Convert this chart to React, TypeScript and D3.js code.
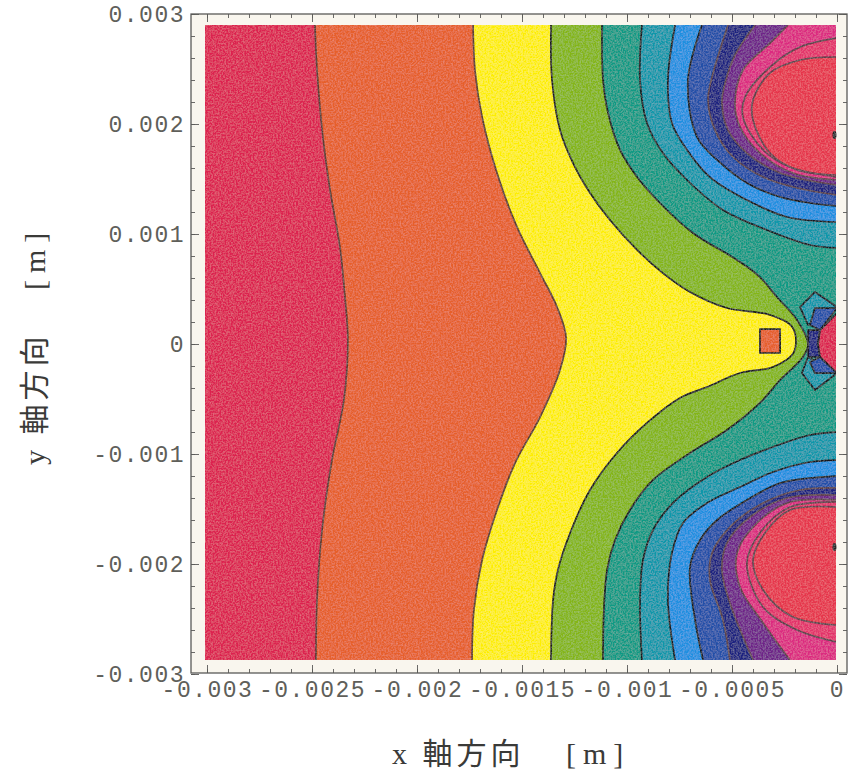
import React, { useEffect, useRef } from 'react'
import { select, scaleLinear, line, curveCatmullRom, axisLeft, axisBottom, axisTop, axisRight, range } from 'd3'

// all positions are in units of 0.001 m
type Pt = [number, number]

const xTicks = [-3, -2.5, -2, -1.5, -1, -0.5, 0]
const xTickLabels = ['-0.003', '-0.0025', '-0.002', '-0.0015', '-0.001', '-0.0005', '0']
const yTicks = [-3, -2, -1, 0, 1, 2, 3]
const yTickLabels = ['-0.003', '-0.002', '-0.001', '0', '0.001', '0.002', '0.003']
const xMinor = range(-3, 0.01, 0.1)
const yMinor = range(-3, 3.01, 0.2)

// extent of the coloured picture inside the frame
const imageX = [-3.01, -0.005]
const imageY = [2.9, -2.873]

const contour1: Pt[] = [[-2.486, 2.9], [-2.476, 2.491], [-2.448, 1.882], [-2.414, 1.4], [-2.367, 0.882], [-2.343, 0.427], [-2.329, 0.036], [-2.348, -0.509], [-2.405, -1.055], [-2.452, -1.691], [-2.476, -2.327], [-2.481, -2.873]]
const contour2: Pt[] = [[-1.733, 2.9], [-1.724, 2.491], [-1.69, 2.064], [-1.619, 1.555], [-1.524, 1.064], [-1.414, 0.645], [-1.333, 0.336], [-1.29, 0.055], [-1.319, -0.236], [-1.414, -0.664], [-1.533, -1.082], [-1.619, -1.509], [-1.69, -1.964], [-1.729, -2.418], [-1.738, -2.873]]
const contour3: Pt[] = [[-1.362, 2.9], [-1.357, 2.4], [-1.319, 1.945], [-1.257, 1.645], [-1.176, 1.373], [-1.081, 1.127], [-0.952, 0.855], [-0.829, 0.645], [-0.7, 0.473], [-0.524, 0.327], [-0.319, 0.264], [-0.21, 0.145], [-0.205, -0.073], [-0.305, -0.209], [-0.462, -0.264], [-0.619, -0.391], [-0.748, -0.491], [-0.905, -0.718], [-1.048, -0.991], [-1.176, -1.327], [-1.271, -1.718], [-1.329, -2.055], [-1.352, -2.327], [-1.362, -2.873]]
const contour4: Pt[] = [[-1.119, 2.9], [-1.114, 2.4], [-1.09, 2.1], [-1.033, 1.764], [-0.952, 1.518], [-0.843, 1.282], [-0.686, 1.009], [-0.476, 0.764], [-0.367, 0.609], [-0.286, 0.427], [-0.19, 0.218], [-0.138, 0], [-0.162, -0.118], [-0.271, -0.327], [-0.367, -0.536], [-0.524, -0.782], [-0.7, -0.991], [-0.876, -1.236], [-0.986, -1.509], [-1.057, -1.782], [-1.095, -2.055], [-1.11, -2.418], [-1.114, -2.873]]

const upper5: Pt[] = [[-0.929, 2.9], [-0.938, 2.4], [-0.905, 2.009], [-0.829, 1.736], [-0.714, 1.491], [-0.543, 1.218], [-0.333, 1.036], [-0.129, 0.9], [0, 0.873]]
const lower5: Pt[] = [[0, -0.8], [-0.129, -0.827], [-0.305, -0.936], [-0.462, -1.055], [-0.619, -1.209], [-0.781, -1.445], [-0.876, -1.691], [-0.924, -1.964], [-0.938, -2.327], [-0.929, -2.873]]
const upper6: Pt[] = [[-0.771, 2.9], [-0.805, 2.4], [-0.786, 2.009], [-0.714, 1.764], [-0.605, 1.518], [-0.429, 1.309], [-0.238, 1.155], [0, 1.109]]
const lower6: Pt[] = [[0, -1.055], [-0.129, -1.073], [-0.305, -1.164], [-0.462, -1.3], [-0.619, -1.445], [-0.733, -1.627], [-0.786, -1.9], [-0.805, -2.327], [-0.771, -2.873]]
const upper7: Pt[] = [[-0.643, 2.9], [-0.71, 2.4], [-0.667, 1.882], [-0.571, 1.673], [-0.429, 1.464], [-0.271, 1.336], [-0.129, 1.282], [0, 1.255]]
const lower7: Pt[] = [[0, -1.2], [-0.129, -1.218], [-0.271, -1.264], [-0.429, -1.418], [-0.571, -1.6], [-0.652, -1.782], [-0.7, -2.027], [-0.676, -2.509], [-0.638, -2.873]]
const upper8: Pt[] = [[-0.519, 2.9], [-0.595, 2.427], [-0.614, 2.218], [-0.581, 1.945], [-0.495, 1.7], [-0.352, 1.518], [-0.19, 1.418], [0, 1.355]]
const lower8: Pt[] = [[0, -1.309], [-0.176, -1.327], [-0.352, -1.445], [-0.51, -1.664], [-0.595, -1.9], [-0.605, -2.145], [-0.543, -2.509], [-0.51, -2.873]]
const upper9: Pt[] = [[-0.39, 2.9], [-0.486, 2.627], [-0.533, 2.373], [-0.548, 2.191], [-0.519, 1.945], [-0.429, 1.736], [-0.271, 1.555], [0, 1.445]]
const lower9: Pt[] = [[0, -1.373], [-0.238, -1.4], [-0.414, -1.573], [-0.524, -1.809], [-0.548, -2.055], [-0.51, -2.355], [-0.4, -2.873]]
const upper10: Pt[] = [[-0.233, 2.9], [-0.319, 2.736], [-0.448, 2.491], [-0.486, 2.191], [-0.462, 1.973], [-0.367, 1.736], [-0.21, 1.555], [0, 1.491]]
const lower10: Pt[] = [[0, -1.418], [-0.224, -1.436], [-0.381, -1.627], [-0.476, -1.9], [-0.462, -2.209], [-0.352, -2.536], [-0.224, -2.873]]
const upper11: Pt[] = [[0, 2.782], [-0.176, 2.7], [-0.319, 2.518], [-0.438, 2.245], [-0.448, 2.064], [-0.352, 1.764], [-0.224, 1.609], [0, 1.518]]
const lower11: Pt[] = [[0, -1.436], [-0.224, -1.482], [-0.367, -1.718], [-0.429, -1.991], [-0.352, -2.391], [-0.19, -2.6], [0, -2.709]]
const upper12: Pt[] = [[0, 2.609], [-0.176, 2.582], [-0.319, 2.464], [-0.4, 2.218], [-0.4, 2.036], [-0.319, 1.736], [-0.19, 1.582], [0, 1.536]]
const lower12: Pt[] = [[0, -1.482], [-0.224, -1.509], [-0.343, -1.718], [-0.4, -1.964], [-0.352, -2.236], [-0.21, -2.482], [0, -2.555]]

// the coarse grid cells round the origin, straight edged in the picture
const pocketSquare: Pt[] = [[-0.367, 0.136], [-0.271, 0.136], [-0.271, -0.082], [-0.367, -0.082]]
const diamondUp: Pt[] = [[-0.105, 0.473], [-0.176, 0.336], [-0.138, 0.173], [0, 0.336]]
const diamondDown: Pt[] = [[-0.105, -0.418], [-0.167, -0.264], [-0.138, -0.118], [0, -0.264]]
const innerUp: Pt[] = [[-0.105, 0.327], [0, 0.327], [-0.081, 0.127], [-0.129, 0.173]]
const innerDown: Pt[] = [[-0.105, -0.264], [0, -0.264], [-0.081, -0.118], [-0.129, -0.164]]
const neck: Pt[] = [[-0.138, 0.127], [-0.081, 0.127], [-0.09, 0], [-0.081, -0.118], [-0.138, -0.118]]
const centre: Pt[] = [[0, 0.282], [-0.081, 0.127], [-0.09, 0], [-0.081, -0.118], [0, -0.264]]
const specks: Pt[] = [[-0.012, 1.9], [-0.012, -1.845]]

const cRed = '#dc2450'
const cOrange = '#e65f2c'
const cYellow = '#fdee00'
const cGreen = '#84b512'
const cSea = '#0f9a84'
const cTeal = '#0f97aa'
const cBlue = '#1a8fe0'
const cCobalt = '#2450a8'
const cNavy = '#1a2280'
const cPurple = '#6e2488'
const cMagenta = '#dc2a80'
const cRose = '#e3306a'
const cCore = '#e6344c'
const lineWarm = '#5a3a30'
const lineDark = '#14181c'
const lineGrey = '#5e4048'

const topCorner: Pt[] = [[0.05, 3]]
const bottomCorner: Pt[] = [[0.05, -3]]
const bothCorners: Pt[] = [[0.05, -3], [0.05, 3]]
const edgeOnly: Pt[] = []

const bands: [Pt[], Pt[], string, string][] = [
  [contour1, bothCorners, cOrange, lineWarm],
  [contour2, bothCorners, cYellow, lineWarm],
  [contour3, bothCorners, cGreen, lineDark],
  [contour4, bothCorners, cSea, lineDark],
  [upper5, topCorner, cTeal, lineDark],
  [lower5, bottomCorner, cTeal, lineDark],
  [upper6, topCorner, cBlue, lineDark],
  [lower6, bottomCorner, cBlue, lineDark],
  [upper7, topCorner, cCobalt, lineDark],
  [lower7, bottomCorner, cCobalt, lineDark],
  [upper8, topCorner, cNavy, lineGrey],
  [lower8, bottomCorner, cNavy, lineGrey],
  [upper9, topCorner, cPurple, lineGrey],
  [lower9, bottomCorner, cPurple, lineGrey],
  [upper10, topCorner, cMagenta, lineGrey],
  [lower10, bottomCorner, cMagenta, lineGrey],
  [upper11, edgeOnly, cRose, lineGrey],
  [lower11, edgeOnly, cRose, lineGrey],
  [upper12, edgeOnly, cCore, lineGrey],
  [lower12, edgeOnly, cCore, lineGrey],
]

const pockets: [Pt[], string][] = [
  [pocketSquare, cOrange],
  [diamondUp, cTeal],
  [diamondDown, cTeal],
  [innerUp, cCobalt],
  [innerDown, cCobalt],
  [neck, cNavy],
  [centre, cRed],
]

const W = 850
const H = 776
const frame = { left: 191, right: 847, top: 14, bottom: 673 }
const monoFont = '"Liberation Mono", monospace'
const labelFont = '"Liberation Serif", "Noto Sans CJK JP", serif'

export default function App() {
  const svgRef = useRef<SVGSVGElement>(null)

  useEffect(() => {
    const svg = select(svgRef.current)
    svg.selectAll('*').remove()

    const xScale = scaleLinear().domain([-3, 0]).range([207, 837])
    const yScale = scaleLinear().domain([-3, 3]).range([674, 14])

    const defs = svg.append('defs')
    defs.append('clipPath').attr('id', 'image-clip')
      .append('rect')
      .attr('x', xScale(imageX[0]))
      .attr('y', yScale(imageY[0]))
      .attr('width', xScale(imageX[1]) - xScale(imageX[0]))
      .attr('height', yScale(imageY[1]) - yScale(imageY[0]))

    // print grain of the scan
    const grain = defs.append('filter').attr('id', 'grain')
      .attr('x', 0).attr('y', 0).attr('width', 1).attr('height', 1)
    grain.append('feGaussianBlur').attr('in', 'SourceGraphic').attr('stdDeviation', 0.5).attr('result', 'soft')
    grain.append('feTurbulence').attr('type', 'fractalNoise').attr('baseFrequency', 0.6).attr('numOctaves', 2).attr('seed', 4).attr('result', 'noise')
    grain.append('feColorMatrix').attr('in', 'noise').attr('type', 'matrix')
      .attr('values', '0 0 0 0 1  0 0 0 0 1  0 0 0 0 1  0.3 0 0 0 -0.11').attr('result', 'speck')
    grain.append('feComposite').attr('in', 'speck').attr('in2', 'soft').attr('operator', 'in').attr('result', 'speckIn')
    grain.append('feMerge').selectAll('feMergeNode').data(['soft', 'speckIn']).join('feMergeNode').attr('in', d => d)

    svg.append('rect')
      .attr('x', frame.left).attr('y', frame.top)
      .attr('width', frame.right - frame.left).attr('height', frame.bottom - frame.top)
      .attr('fill', '#f9f6ee')

    const curve = line<Pt>().x(d => xScale(d[0])).y(d => yScale(d[1])).curve(curveCatmullRom.alpha(0.5))
    const straight = line<Pt>().x(d => xScale(d[0])).y(d => yScale(d[1]))
    const closing = (pts: Pt[]) => pts.map(d => `L${xScale(d[0])},${yScale(d[1])}`).join('') + 'Z'

    const plot = svg.append('g').attr('filter', 'url(#grain)')
    const clipped = plot.append('g').attr('clip-path', 'url(#image-clip)')

    clipped.append('rect').attr('x', 0).attr('y', 0).attr('width', W).attr('height', H).attr('fill', cRed)

    clipped.selectAll('.band').data(bands).join('path')
      .attr('class', 'band')
      .attr('d', d => curve(d[0]) + closing(d[1]))
      .attr('fill', d => d[2])

    clipped.selectAll('.contour').data(bands).join('path')
      .attr('class', 'contour')
      .attr('d', d => curve(d[0]))
      .attr('fill', 'none')
      .attr('stroke', d => d[3])
      .attr('stroke-width', 1.7)

    clipped.selectAll('.pocket').data(pockets).join('path')
      .attr('class', 'pocket')
      .attr('d', d => straight(d[0]) + 'Z')
      .attr('fill', d => d[1])
      .attr('stroke', lineDark)
      .attr('stroke-width', 1.7)
      .attr('stroke-linejoin', 'round')

    plot.selectAll('.speck').data(specks).join('ellipse')
      .attr('class', 'speck')
      .attr('cx', d => xScale(d[0]))
      .attr('cy', d => yScale(d[1]))
      .attr('rx', 2)
      .attr('ry', 4)
      .attr('fill', '#222')

    svg.append('rect')
      .attr('x', frame.left).attr('y', frame.top)
      .attr('width', frame.right - frame.left).attr('height', frame.bottom - frame.top)
      .attr('fill', 'none').attr('stroke', '#5a5a58').attr('stroke-width', 1.3)

    const minorLeft = axisLeft(yScale).tickValues(yMinor).tickSize(-4).tickFormat(() => '')
    const minorRight = axisRight(yScale).tickValues(yMinor).tickSize(-4).tickFormat(() => '')
    const minorBottom = axisBottom(xScale).tickValues(xMinor).tickSize(-4).tickFormat(() => '')
    const minorTop = axisTop(xScale).tickValues(xMinor).tickSize(-4).tickFormat(() => '')
    const majorRight = axisRight(yScale).tickValues(yTicks).tickSize(-8).tickFormat(() => '')
    const majorTop = axisTop(xScale).tickValues(xTicks).tickSize(-8).tickFormat(() => '')
    const yAxis = axisLeft(yScale).tickValues(yTicks).tickSize(-8).tickPadding(6)
      .tickFormat((_, i) => yTickLabels[i])
    const xAxis = axisBottom(xScale).tickValues(xTicks).tickSize(-8).tickPadding(8)
      .tickFormat((_, i) => xTickLabels[i])

    const place: [any, string][] = [
      [minorLeft, `translate(${frame.left},0)`],
      [minorRight, `translate(${frame.right},0)`],
      [majorRight, `translate(${frame.right},0)`],
      [minorBottom, `translate(0,${frame.bottom})`],
      [minorTop, `translate(0,${frame.top})`],
      [majorTop, `translate(0,${frame.top})`],
      [yAxis, `translate(${frame.left},0)`],
      [xAxis, `translate(0,${frame.bottom})`],
    ]
    place.forEach(([axis, transform]) => {
      const g = svg.append('g').attr('transform', transform).call(axis)
      g.select('.domain').remove()
      g.selectAll('line').attr('stroke', '#5a5a58').attr('stroke-width', 0.9)
      g.selectAll('text')
        .attr('fill', '#5f5f5a')
        .style('font-family', monoFont)
        .style('font-size', '23px')
        .style('letter-spacing', '1.5px')
    })

    const addLabel = (text: string, transform: string, spacing: number) => {
      svg.append('text')
        .attr('transform', transform)
        .attr('fill', '#3a3a38')
        .style('font-family', labelFont)
        .style('font-size', '30px')
        .style('letter-spacing', `${spacing}px`)
        .text(text)
    }
    addLabel('x 軸方向', 'translate(392,764)', 4)
    addLabel('[m]', 'translate(566,764)', 7)
    addLabel('y 軸方向', 'translate(45,465) rotate(-90)', 4)
    addLabel('[m]', 'translate(45,290) rotate(-90)', 7)
  }, [])

  return (
    <svg ref={svgRef} width={W} height={H} style={{ position: 'absolute', left: 0, top: 0, background: '#fff' }} />
  )
}
